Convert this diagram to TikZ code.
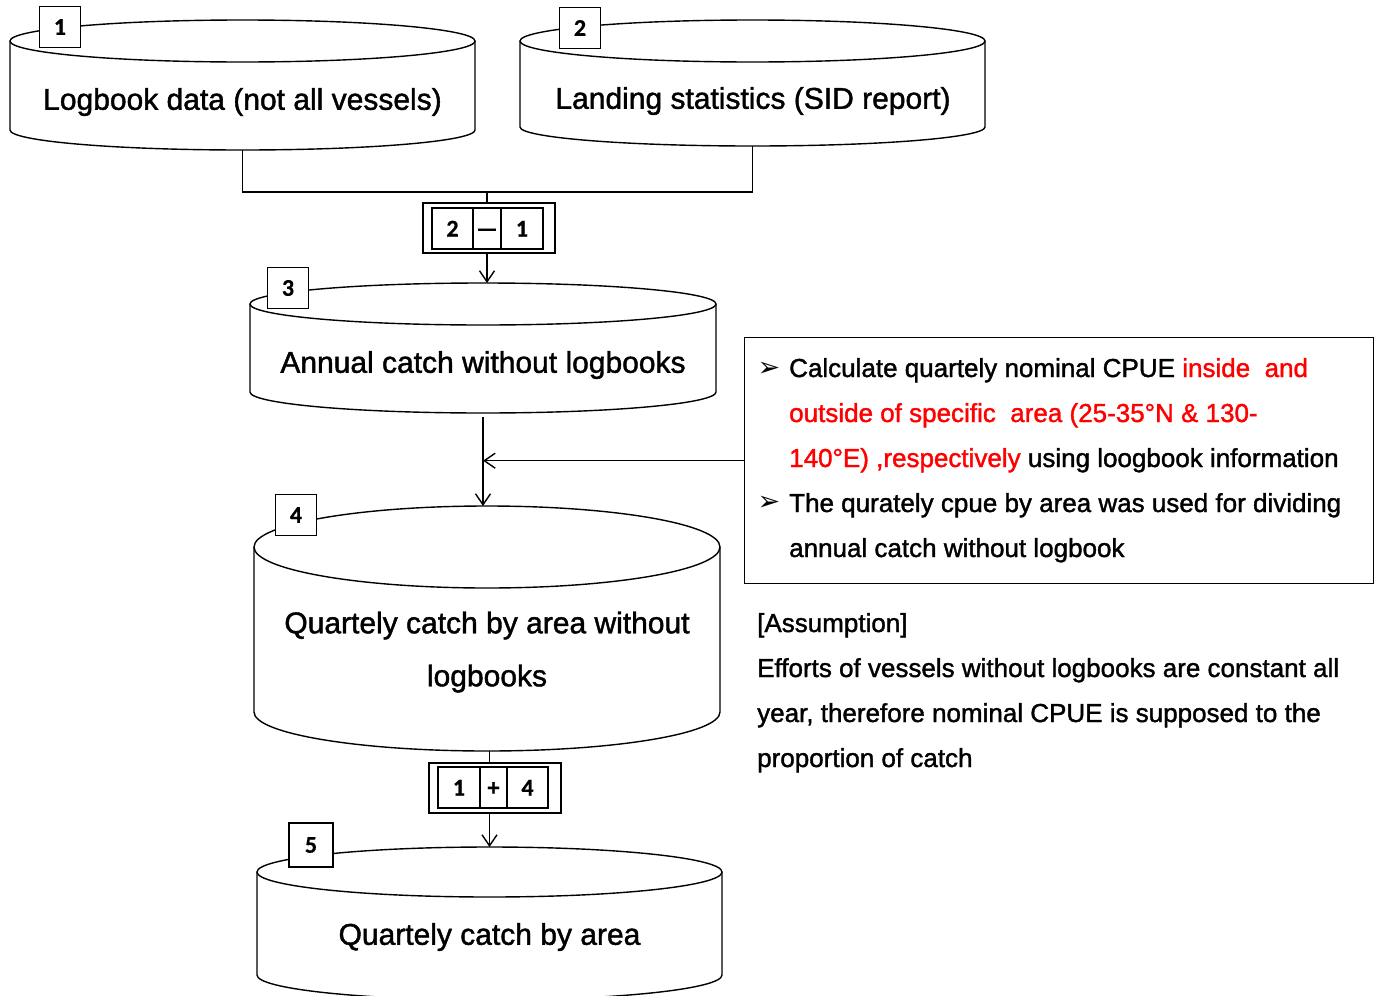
\documentclass[tikz,border=0pt]{standalone}
\usepackage{fontspec}
\setmainfont{Liberation Sans}[RawFeature={embolden=1.4}]
\newfontfamily\numfont{Carlito}[RawFeature={embolden=0.5}]
\newfontfamily\symfont{DejaVu Sans}
\usetikzlibrary{arrows.meta,calc}
\newcommand{\dbcyl}[7]{%
  \draw[cylline] (#2,-#4) -- (#2,-#6) arc[start angle=180,end angle=360,x radius={(#3-#2)/2},y radius=#7] -- (#3,-#4);
  \draw[cylline] ({(#2+#3)/2},-#4) ellipse [x radius={(#3-#2)/2}, y radius=#5];
  \coordinate (#1top) at ({(#2+#3)/2},{-#4+#5});
  \coordinate (#1bot) at ({(#2+#3)/2},{-#6-#7});
}
\begin{document}
\begin{tikzpicture}[x=1pt,y=1pt,
  cylline/.style={line width=1.4pt, fill=white},
  conn/.style={line width=1.4pt},
  arr/.style={line width=1.4pt,-{Straight Barb[length=11pt,width=15pt,line width=1.4pt]}},
  numbox/.style={draw,line width=1.4pt,fill=white,minimum width=41pt,minimum height=41pt,inner sep=0pt,font=\numfont\bfseries\fontsize{24}{26}\selectfont},
  cell/.style={draw,line width=1.4pt,inner sep=0pt,minimum height=41pt,text height=16pt,text depth=0pt,font=\numfont\bfseries\fontsize{24}{26}\selectfont},
  opbox/.style={draw,line width=1.4pt,minimum width=132pt,minimum height=50pt,inner sep=0pt},
  cyltext/.style={font=\fontsize{30}{53}\selectfont,align=center,inner sep=0pt},
  boxtext/.style={font=\fontsize{26}{45}\selectfont,anchor=base west,inner sep=0pt},
  bullet/.style={font=\symfont\fontsize{27}{27}\selectfont,inner sep=0pt},
]
\useasboundingbox (0,0) rectangle (1379,-996);
\fill[white] (0,0) rectangle (1379,-996);

% cylinders
\dbcyl{c1}{10}{475}{41}{21}{130}{20}
\dbcyl{c2}{520}{985}{41}{21}{127}{19}
\dbcyl{c3}{250}{716}{304}{21}{392}{21}
\dbcyl{c4}{254}{720}{547}{41}{712}{39}
\dbcyl{c5}{257}{722}{872}{25}{975}{25}

\node[cyltext] (t1) at (242.5,-102) {Logbook data (not all vessels)};
\node[cyltext] (t2) at (753,-101) {Landing statistics (SID report)};
\node[cyltext] (t3) at (483,-365) {Annual catch without logbooks};
\node[cyltext] (t4) at (487,-652) {Quartely catch by area without\\logbooks};
\node[cyltext] (t5) at (489.5,-937) {Quartely catch by area};

% number boxes
\node[numbox] (n1) at (60,-27) {1};
\node[numbox] (n2) at (580,-28) {2};
\node[numbox] (n3) at (288,-288) {3};
\node[numbox] (n4) at (296,-515) {4};
\node[numbox,minimum width=44pt,minimum height=44pt] (n5) at (311,-845) {5};

% operation boxes
\node[opbox] (op1) at (489,-228) {};
\node[cell,minimum width=41pt] (op1a) at (452.5,-228.5) {2};
\node[cell,minimum width=28pt] (op1b) at (487,-228.5) {—};
\node[cell,minimum width=42pt] (op1c) at (522,-228.5) {1};

\node[opbox] (op2) at (495,-788) {};
\node[cell,minimum width=42pt] (op2a) at (459,-787.5) {1};
\node[cell,minimum width=27pt] (op2b) at (493.5,-787.5) {+};
\node[cell,minimum width=41pt] (op2c) at (527.5,-787.5) {4};

% text box
\node[draw,line width=1.4pt,minimum width=629pt,minimum height=246pt,anchor=north west,inner sep=0pt] (tbox) at (744,-337) {};
\node[bullet] (bu1) at (769,-369) {➢};
\node[bullet] (bu2) at (769,-503) {➢};
\node[boxtext] (b1) at (789,-377) {Calculate quartely nominal CPUE \textcolor{red}{inside\ \ and}};
\node[boxtext] (b2) at (789,-422) {\textcolor{red}{outside of specific\ \ area (25-35°N \& 130-}};
\node[boxtext] (b3) at (789,-467) {\textcolor{red}{140°E) ,respectively} using loogbook information};
\node[boxtext] (b4) at (789,-512) {The qurately cpue by area was used for dividing};
\node[boxtext] (b5) at (789,-557) {annual catch without logbook};

% assumption
\node[boxtext] (a0) at (757,-632) {[Assumption]};
\node[boxtext] (a1) at (757,-677) {Efforts of vessels without logbooks are constant all};
\node[boxtext] (a2) at (757,-722) {year, therefore nominal CPUE is supposed to the};
\node[boxtext] (a3) at (757,-767) {proportion of catch};

% connectors
\coordinate (j) at (487,-192);
\draw[conn] (c1bot) -- (c1bot |- j) -- (c2bot |- j) -- (c2bot);
\draw[conn] (j) -- (j |- op1.north);
\draw[arr] (j |- op1.south) -- (j |- c3top);
\draw[arr,shorten <=4pt] (c3bot) -- (c3bot |- c4top);
\draw[arr] (tbox.west) -- (tbox.west -| c3bot);
\draw[conn] (c5top |- c4bot) -- (c5top |- op2.north);
\draw[arr] (c5top |- op2.south) -- (c5top);
\end{tikzpicture}
\end{document}
